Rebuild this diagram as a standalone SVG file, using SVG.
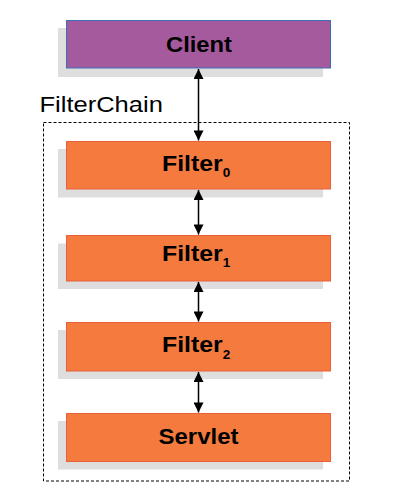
<svg xmlns="http://www.w3.org/2000/svg" width="420" height="496" viewBox="0 0 420 496">
<style>
.shadow{fill:#dedede}
.client{fill:#a65a9e;stroke:#3c6eb4;stroke-width:1}
.filt{fill:#f47a3e;stroke:#e8603a;stroke-width:1}
.lbl{font-family:"Liberation Sans",Arial,sans-serif;font-weight:bold;font-size:22px;fill:#000}
.sub{font-size:12px}
.conn{stroke:#000;stroke-width:1.5;fill:none;marker-start:url(#ah);marker-end:url(#ah)}
</style>
<defs>
<marker id="ah" viewBox="0 0 10 10" refX="10" refY="5" markerWidth="13" markerHeight="10" markerUnits="userSpaceOnUse" orient="auto-start-reverse">
<path d="M0,0 L10,5 L0,10 Z" fill="#000"/>
</marker>
</defs>
<rect width="420" height="496" fill="#fff"/>
<g id="filterchain">
<rect x="43.5" y="122.5" width="306" height="358.5" fill="none" stroke="#000" stroke-width="1" stroke-dasharray="3,2"/>
<text transform="matrix(1.16,0,0,1,39.5,112)" font-family="Liberation Sans,Arial,sans-serif" font-size="22" fill="#000">FilterChain</text>
</g>
<g id="client">
<rect class="shadow" x="58" y="28" width="265" height="49"/>
<rect class="client" x="66.5" y="20.5" width="264" height="47.5"/>
<text class="lbl" transform="matrix(1.08,0,0,1,166,51.5)">Client</text>
</g>
<g id="filter0">
<rect class="shadow" x="58" y="149" width="265" height="48.5"/>
<rect class="filt" x="66.5" y="141.5" width="264" height="47.5"/>
<text class="lbl" transform="matrix(1.13,0,0,1,162,170.5)">Filter<tspan class="sub" dy="6.5">0</tspan></text>
</g>
<g id="filter1">
<rect class="shadow" x="58" y="243.5" width="265" height="45.5"/>
<rect class="filt" x="66.5" y="235.5" width="264" height="45.5"/>
<text class="lbl" transform="matrix(1.13,0,0,1,162,260.5)">Filter<tspan class="sub" dy="6.5">1</tspan></text>
</g>
<g id="filter2">
<rect class="shadow" x="58" y="330" width="265" height="49"/>
<rect class="filt" x="66.5" y="322.5" width="264" height="48.5"/>
<text class="lbl" transform="matrix(1.13,0,0,1,162,352)">Filter<tspan class="sub" dy="6.5">2</tspan></text>
</g>
<g id="servlet">
<rect class="shadow" x="58" y="421" width="265" height="48.5"/>
<rect class="filt" x="66.5" y="413.5" width="264" height="48"/>
<text class="lbl" transform="matrix(1.09,0,0,1,158.5,444)">Servlet</text>
</g>
<g id="connectors">
<line class="conn" x1="198.5" y1="69" x2="198.5" y2="140.5"/>
<line class="conn" x1="198.5" y1="190" x2="198.5" y2="234.5"/>
<line class="conn" x1="198.5" y1="282" x2="198.5" y2="321.5"/>
<line class="conn" x1="198.5" y1="372" x2="198.5" y2="412.5"/>
</g>
</svg>
